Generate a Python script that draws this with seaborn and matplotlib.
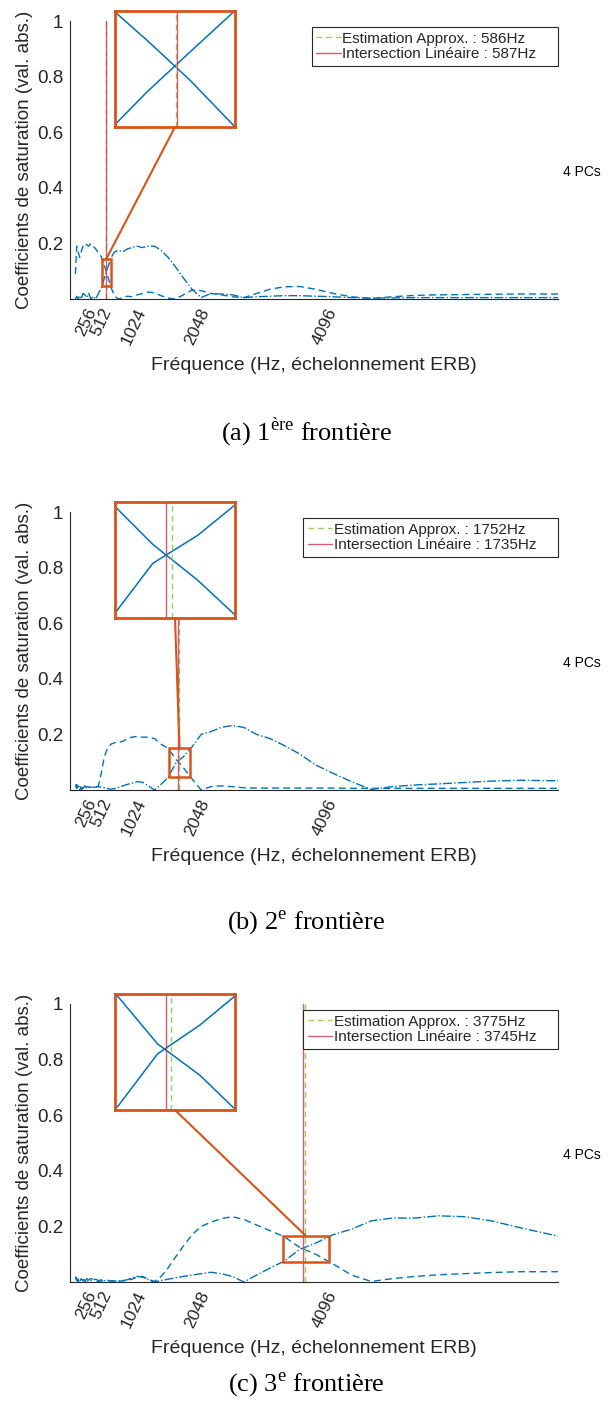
import matplotlib
matplotlib.use("Agg")
import matplotlib.pyplot as plt
from matplotlib.patches import Rectangle, ConnectionPatch
import seaborn as sns

# ERB-spaced analysis frequencies (Hz)
FREQ = [87, 108, 131, 155, 180, 208, 237, 268, 301, 336, 374, 414, 457, 503, 552,
        603, 659, 718, 781, 849, 921, 997, 1079, 1166, 1259, 1359, 1464, 1577, 1698,
        1826, 1963, 2110, 2265, 2432, 2609, 2799, 3001, 3216, 3446, 3691, 3952, 4231,
        4528, 4846, 5184, 5545, 5929, 6341, 6778, 7245, 7850]

# panel (a): 1st boundary
A_DASH = [0.09, 0.19, 0.17, 0.15, 0.17, 0.19, 0.2, 0.195, 0.19, 0.2, 0.19, 0.18, 0.165,
          0.152, 0.12, 0.085, 0.042, 0.01, 0.0, 0.005, 0.01, 0.008, 0.015, 0.02, 0.025,
          0.022, 0.012, 0.003, 0.0, 0.015, 0.032, 0.03, 0.02, 0.015, 0.008, 0.005, 0.02,
          0.035, 0.044, 0.045, 0.035, 0.02, 0.008, 0.002, 0.008, 0.013, 0.015, 0.016,
          0.017, 0.018, 0.018]
A_DASHDOT = [0.0, 0.01, 0.0, 0.012, 0.0, 0.02, 0.015, 0.005, 0.02, 0.0, 0.01, 0.0, 0.02,
             0.038, 0.075, 0.11, 0.148, 0.17, 0.175, 0.17, 0.18, 0.185, 0.19, 0.185,
             0.19, 0.19, 0.175, 0.15, 0.115, 0.075, 0.035, 0.005, 0.02, 0.018, 0.015,
             0.005, 0.008, 0.01, 0.012, 0.012, 0.01, 0.008, 0.005, 0.003, 0.004, 0.005,
             0.005, 0.005, 0.005, 0.005, 0.005]

# panel (b): 2nd boundary
B_DASH = [0.01, 0.02, 0.005, 0.015, 0.0, 0.01, 0.005, 0.012, 0.01, 0.01, 0.008, 0.01,
          0.015, 0.06, 0.12, 0.15, 0.165, 0.17, 0.172, 0.175, 0.185, 0.19, 0.193, 0.19,
          0.19, 0.185, 0.165, 0.15, 0.112, 0.08, 0.04, 0.0, 0.012, 0.015, 0.012, 0.008,
          0.007, 0.007, 0.007, 0.007, 0.007, 0.007, 0.006, 0.006, 0.006, 0.006, 0.006,
          0.006, 0.006, 0.006, 0.006]
B_DASHDOT = [0.02, 0.005, 0.015, 0.0, 0.01, 0.005, 0.015, 0.008, 0.01, 0.012, 0.01, 0.01,
             0.012, 0.01, 0.008, 0.005, 0.003, 0.005, 0.01, 0.015, 0.02, 0.025, 0.03,
             0.028, 0.015, 0.0, 0.02, 0.045, 0.095, 0.12, 0.155, 0.2, 0.21, 0.225, 0.232,
             0.225, 0.2, 0.185, 0.16, 0.13, 0.09, 0.06, 0.03, 0.002, 0.012, 0.018, 0.022,
             0.027, 0.032, 0.035, 0.033]

# panel (c): 3rd boundary
C_DASH = [0.02, 0.005, 0.01, 0.0, 0.012, 0.005, 0.01, 0.0, 0.008, 0.012, 0.01, 0.005,
          0.0, 0.004, 0.005, 0.006, 0.004, 0.002, 0.003, 0.004, 0.006, 0.01, 0.018, 0.02,
          0.01, 0.002, 0.02, 0.05, 0.09, 0.13, 0.17, 0.2, 0.215, 0.228, 0.235, 0.225,
          0.205, 0.185, 0.163, 0.125, 0.1, 0.065, 0.025, 0.002, 0.012, 0.02, 0.026, 0.03,
          0.034, 0.037, 0.037]
C_DASHDOT = [0.01, 0.015, 0.0, 0.012, 0.005, 0.01, 0.0, 0.012, 0.008, 0.005, 0.008, 0.01,
             0.005, 0.008, 0.005, 0.005, 0.004, 0.004, 0.003, 0.005, 0.008, 0.015, 0.02,
             0.018, 0.008, 0.0, 0.005, 0.01, 0.015, 0.02, 0.025, 0.03, 0.035, 0.03, 0.02,
             0.0, 0.025, 0.05, 0.075, 0.117, 0.14, 0.17, 0.19, 0.22, 0.23, 0.23, 0.238,
             0.235, 0.22, 0.195, 0.165]

EST_HZ = [586, 1752, 3775]
INTER_HZ = [587, 1735, 3745]
ZOOM_X = [(515, 655), (1590, 1933), (3428, 4170)]
ZOOM_Y = [(0.045, 0.145), (0.046, 0.15), (0.072, 0.165)]
CAPTIONS = [("(a) 1", "ère"), ("(b) 2", "e"), ("(c) 3", "e")]

XTICKS = [256, 512, 1024, 2048, 4096]
YTICKS = [0.2, 0.4, 0.6, 0.8, 1]
YTICKLABELS = ["0.2", "0.4", "0.6", "0.8", "1"]

BLUE = "#0072BD"
ORANGE = "#D95319"
GREEN = "#9acd5a"
RED = "#d0405a"
INK = "#262626"

sns.set_theme(style="white")
plt.rcParams["font.family"] = ["Liberation Sans", "DejaVu Sans"]
plt.rcParams["mathtext.fontset"] = "custom"
plt.rcParams["mathtext.rm"] = "Liberation Serif"

W, H = 610, 1409
fig = plt.figure(figsize=(W / 100, H / 100), dpi=100)
fig.patch.set_facecolor("white")


def px_axes(left, top, right, bottom):
    return fig.add_axes([left / W, 1 - bottom / H, (right - left) / W, (bottom - top) / H])


panels = [(A_DASH, A_DASHDOT), (B_DASH, B_DASHDOT), (C_DASH, C_DASHDOT)]
tops = [21, 512, 1004]
caption_y = [432, 923, 1385]

for i, (dash, dashdot) in enumerate(panels):
    top = tops[i]
    ax = px_axes(70, top, 558, top + 278)
    ax.set_facecolor("white")

    sns.lineplot(x=FREQ, y=dash, ax=ax, color=BLUE, lw=1.0, linestyle=(0, (5, 3)))
    sns.lineplot(x=FREQ, y=dashdot, ax=ax, color=BLUE, lw=1.0, linestyle="-.")

    ax.axvline(EST_HZ[i], color=GREEN, lw=1.0, linestyle=(0, (4, 3)),
               label=f"Estimation Approx. : {EST_HZ[i]}Hz")
    ax.axvline(INTER_HZ[i], color=RED, lw=1.0, alpha=0.85,
               label=f"Intersection Linéaire : {INTER_HZ[i]}Hz    ")

    ax.set_xlim(0, FREQ[-1])
    ax.set_ylim(0, 1)
    for side in ["top", "right"]:
        ax.spines[side].set_visible(False)
    for side in ["left", "bottom"]:
        ax.spines[side].set_color(INK)
        ax.spines[side].set_linewidth(0.8)
    ax.set_xticks(XTICKS)
    ax.set_xticklabels([str(t) for t in XTICKS], rotation=65)
    ax.set_yticks(YTICKS)
    ax.set_yticklabels(YTICKLABELS)
    ax.tick_params(direction="in", length=4, width=0.8, colors=INK, labelsize=13.5)
    ax.tick_params(axis="y", pad=5)
    ax.tick_params(axis="x", labelsize=12.5, pad=5)
    ax.set_xlabel("Fréquence (Hz, échelonnement ERB)", fontsize=14, color=INK, labelpad=7)
    ax.set_ylabel("Coefficients de saturation (val. abs.)", fontsize=13.5, color=INK,
                  labelpad=3)

    leg = ax.legend(loc="upper right", bbox_to_anchor=(1.0, 1 - 6 / 278),
                    borderaxespad=0, fontsize=11, frameon=True, fancybox=False,
                    edgecolor=INK, framealpha=1, handlelength=1.6, handletextpad=0.1,
                    borderpad=0.3, labelspacing=0.1)
    leg.get_frame().set_linewidth(0.8)
    for t in leg.get_texts():
        t.set_color(INK)

    ax.text(1.01, 0.457, "4 PCs", transform=ax.transAxes, fontsize=10,
            va="center", ha="left", color="black")

    x0, x1 = ZOOM_X[i]
    y0, y1 = ZOOM_Y[i]
    ax.add_patch(Rectangle((x0, y0), x1 - x0, y1 - y0, fill=False,
                           edgecolor=ORANGE, lw=1.8, zorder=5))

    # magnified view
    ins = px_axes(115, top - 10, 235, top + 106)
    ins.set_facecolor("white")
    sns.lineplot(x=FREQ, y=dash, ax=ins, color=BLUE, lw=1.1)
    sns.lineplot(x=FREQ, y=dashdot, ax=ins, color=BLUE, lw=1.1)
    ins.axvline(EST_HZ[i], color=GREEN, lw=1.0, linestyle=(0, (4, 3)))
    ins.axvline(INTER_HZ[i], color=RED, lw=1.0, alpha=0.85)
    ins.set_xlim(x0, x1)
    ins.set_ylim(y0, y1)
    ins.set_xticks([])
    ins.set_yticks([])
    ins.set_xlabel("")
    ins.set_ylabel("")
    for sp in ins.spines.values():
        sp.set_visible(True)
        sp.set_edgecolor(ORANGE)
        sp.set_linewidth(2.0)

    con = ConnectionPatch(xyA=((x0 + x1) / 2, y1), coordsA=ax.transData,
                          xyB=(0.5, 0), coordsB=ins.transAxes,
                          color=ORANGE, lw=1.5)
    fig.add_artist(con)

    lead, sup = CAPTIONS[i]
    fig.text(0.502, 1 - caption_y[i] / H, lead + r"$^{\mathrm{" + sup + r"}}$" + " frontière",
             ha="center", va="center", fontsize=19, color="black",
             family=["Liberation Serif", "DejaVu Serif"])

fig.savefig("out.png", dpi=100, facecolor="white")
